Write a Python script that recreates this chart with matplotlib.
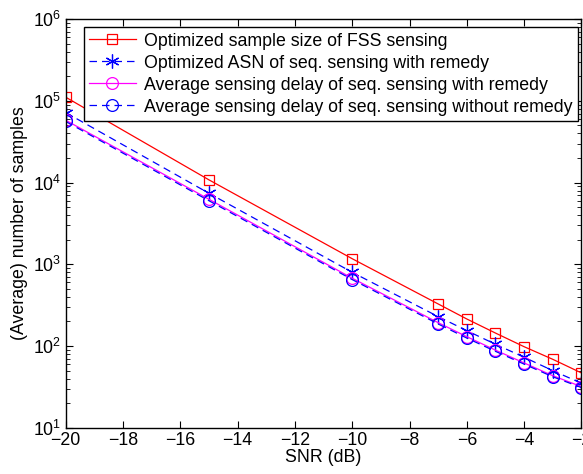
import matplotlib
matplotlib.use('Agg')
import matplotlib.pyplot as plt
import numpy as np

plt.rcParams['font.family'] = ['Liberation Sans', 'DejaVu Sans']
plt.rcParams['mathtext.fontset'] = 'custom'
plt.rcParams['mathtext.rm'] = 'Liberation Sans'

# SNR points (dB)
snr = [-20, -15, -10, -7, -6, -5, -4, -3, -2]

# values
fss_size = [1.11e5, 1.08e4, 1.17e3, 327, 214, 144, 98, 68.7, 46.8]
asn_remedy = [7.2e4, 7.4e3, 798, 229, 154, 105, 72.8, 49.9, 35.0]
delay_remedy = [5.8e4, 6.25e3, 675, 193, 130, 89, 62, 43.3, 31.8]
delay_no_remedy = [5.6e4, 6.0e3, 650, 186, 125, 86, 60, 42.0, 31.0]

labels = ['Optimized sample size of FSS sensing',
          'Optimized ASN of seq. sensing with remedy',
          'Average sensing delay of seq. sensing with remedy',
          'Average sensing delay of seq. sensing without remedy']

fs = 12.8

fig = plt.figure(figsize=(5.83, 4.74), dpi=100)
ax = fig.add_axes([0.1127, 0.0977, 0.8846, 0.8618])

ax.semilogy(snr, fss_size, 'r-s', lw=0.9, ms=7.5, mfc='none', mew=0.9, label=labels[0])
ax.semilogy(snr, asn_remedy, 'b--', marker=(6, 2, 0), lw=0.9, ms=10, mew=0.9,
            dashes=(6, 4), label=labels[1])
ax.semilogy(snr, delay_remedy, '-o', color='#ff00ff', lw=0.9, ms=8.5, mfc='none', mew=0.9,
            label=labels[2])
ax.semilogy(snr, delay_no_remedy, 'b--o', lw=0.9, ms=8.5, mfc='none', mew=0.9,
            dashes=(6, 4), label=labels[3])

ax.set_xlim(-20, -2)
ax.set_ylim(10, 1e6)
ax.set_xticks(np.arange(-20, -1, 2))
ax.set_xticklabels(['\u2212%d' % (-v) for v in range(-20, -1, 2)])
ax.tick_params(which='both', direction='in', top=True, right=True, labelsize=fs)
ax.tick_params(which='major', length=5, pad=3)
ax.tick_params(which='minor', length=3)
for s in ax.spines.values():
    s.set_linewidth(1.0)

ax.set_xlabel('SNR (dB)', fontsize=fs, labelpad=0)
ax.set_ylabel('(Average) number of samples', fontsize=fs, labelpad=4)

leg = ax.legend(loc='upper right', bbox_to_anchor=(0.993, 0.98), fontsize=fs,
                frameon=True, fancybox=False, edgecolor='black', framealpha=1,
                handlelength=2.65, handletextpad=0.45, borderpad=0.3, labelspacing=0.28,
                borderaxespad=0)
leg.get_frame().set_linewidth(1.0)

fig.savefig('out.png', dpi=100)
